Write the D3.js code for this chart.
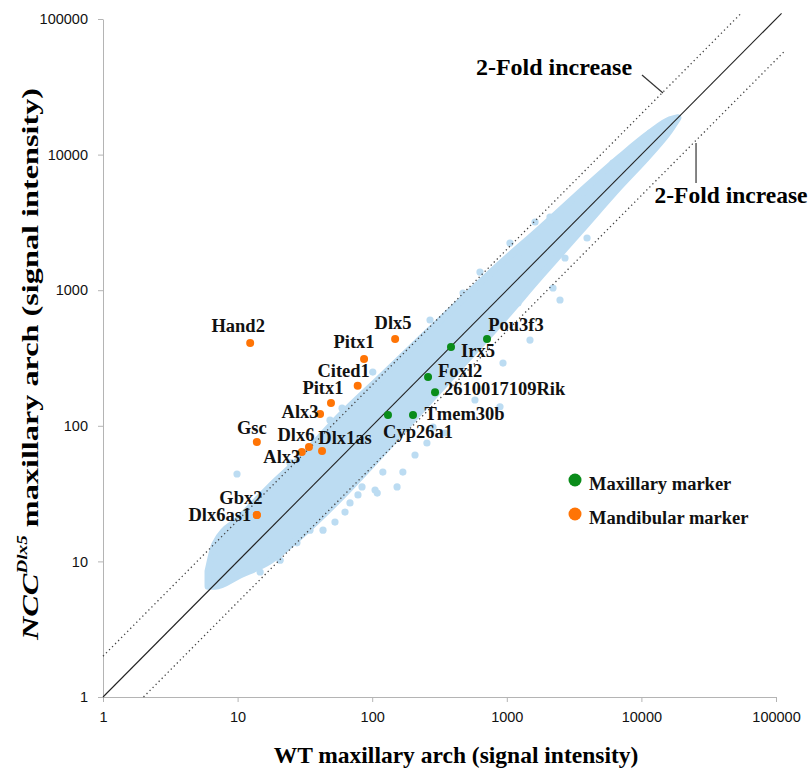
<!DOCTYPE html>
<html>
<head>
<meta charset="utf-8">
<script src="https://cdn.jsdelivr.net/npm/d3@7"></script>
<style>
  body { margin: 0; background: #fff; }
  svg { display: block; }
</style>
</head>
<body>
<svg id="chart" width="810" height="771"></svg>
<script>
// gene markers (WT signal, NCC-Dlx5 signal)
const genes = ["Hand2", "Dlx5", "Pitx1", "Cited1", "Pitx1", "Alx3", "Gsc", "Dlx6", "Dlx1as", "Alx3", "Gbx2", "Dlx6as1",
               "Pou3f3", "Irx5", "Foxl2", "2610017109Rik", "Tmem30b", "Cyp26a1"];
const geneWT  = [12.4, 148, 87, 78, 49.4, 41, 13.9, 33.9, 42.4, 30, 13.9, 13.9,
                 713, 385, 260, 293, 201, 131];
const geneNCC = [408, 437, 311, 197, 147, 122, 76, 69.8, 65.2, 64, 22, 22,
                 437, 381, 229, 177, 120, 120];
const geneType = ["man", "man", "man", "man", "man", "man", "man", "man", "man", "man", "man", "man",
                  "max", "max", "max", "max", "max", "max"];

// dense cloud of all probes: envelope
const bandX  = [6.03, 6.79, 10.4, 17.4, 29.1, 57.6, 114, 226, 449, 890, 1765, 3500, 6930, 11590, 16300, 18700];
const bandHi = [8.45, 13.4, 20.9, 35.6, 57.4, 118, 225, 432, 826, 1556, 2838, 5260, 9570, 14450, 18030, 18700];
const bandLo = [6.56, 6.56, 7.94, 10.1, 15.3, 29.2, 60.0, 127, 270, 572, 1256, 2710, 5850, 10120, 15200, 18700];

// scattered probes around the dense band
const outWT  = [9.9, 120, 105, 78.4, 68.4, 52.9, 34.5, 27.6, 14.7, 169, 153, 109, 84, 101, 59.7, 255, 283, 890, 937,
                1211, 3945, 2706, 2204, 473, 5186, 3683, 2094, 1621, 2800, 1253, 6150, 9440, 11590, 6.79, 7.79,
                20.7, 43.1, 62.8, 208, 347, 580, 1487, 2484, 24.5, 48.6, 269, 632, 1056];
const outNCC = [44.1, 45.6, 33.6, 30.9, 27.0, 19.5, 17.0, 13.7, 8.35, 45.6, 35.4, 31.9, 35.4, 249, 135, 74.7, 98, 138, 290,
                805, 2427, 1727, 1038, 953, 6838, 5297, 3467, 3184, 3900, 1914, 8670, 12180, 14430, 10.6, 7.05,
                10.2, 17.0, 23.1, 60.9, 88.5, 155, 429, 847, 53.2, 110, 603, 1361, 2228];

const tickVals = [1, 10, 100, 1000, 10000, 100000];

// reference lines: y = x and 2-fold lines
const diagX = [1, 110000];
const foldUpX = [1, 56000];
const foldDownX = [2, 115000];

const legendItems = ["Maxillary marker", "Mandibular marker"];
const foldLabel = "2-Fold increase";

const colors = { max: "#0a8c1a", man: "#ff7405", cloud: "#bcdcf2" };
const serif = "'Liberation Serif', 'Times New Roman', serif";
const sans = "'Liberation Sans', Arial, sans-serif";

const svg = d3.select("#chart");
const x = d3.scaleLog().domain([1, 100000]).range([103, 776]);
const y = d3.scaleLog().domain([1, 100000]).range([697, 19]);

// axes
const xAxis = svg.append("g").attr("transform", "translate(0,697)")
  .call(d3.axisBottom(x).tickValues(tickVals).tickFormat(d3.format("d")).tickSize(5).tickPadding(10).tickSizeOuter(0));
const yAxis = svg.append("g").attr("transform", "translate(103,0)")
  .call(d3.axisLeft(y).tickValues(tickVals).tickFormat(d3.format("d")).tickSize(5).tickPadding(10).tickSizeOuter(0));
[xAxis, yAxis].forEach(g => {
  g.select(".domain").attr("stroke", "#b4b4b4");
  g.selectAll(".tick line").attr("stroke", "#b4b4b4");
  g.selectAll(".tick text").attr("font-family", sans).attr("font-size", 14.5).attr("fill", "#111");
});

// cloud
const band = bandX.map((v, i) => ({ x: v, hi: bandHi[i], lo: bandLo[i] }));
svg.append("path")
  .datum(band)
  .attr("fill", colors.cloud)
  .attr("stroke", colors.cloud)
  .attr("stroke-width", 7)
  .attr("stroke-linejoin", "round")
  .attr("d", d3.area().x(d => x(d.x)).y0(d => y(d.lo)).y1(d => y(d.hi)).curve(d3.curveMonotoneX));

svg.append("g")
  .selectAll("circle")
  .data(outWT.map((v, i) => ({ x: v, y: outNCC[i] })))
  .join("circle")
  .attr("cx", d => x(d.x))
  .attr("cy", d => y(d.y))
  .attr("r", 3.6)
  .attr("fill", colors.cloud);

// reference lines
svg.append("path")
  .datum(diagX)
  .attr("fill", "none").attr("stroke", "#222").attr("stroke-width", 1.1)
  .attr("d", d3.line().x(d => x(d)).y(d => y(d)));
svg.append("path")
  .datum(foldUpX)
  .attr("fill", "none").attr("stroke", "#444").attr("stroke-width", 1.3).attr("stroke-dasharray", "1.3,3")
  .attr("d", d3.line().x(d => x(d)).y(d => y(d * 2)));
svg.append("path")
  .datum(foldDownX)
  .attr("fill", "none").attr("stroke", "#444").attr("stroke-width", 1.3).attr("stroke-dasharray", "1.3,3")
  .attr("d", d3.line().x(d => x(d)).y(d => y(d / 2)));

// fold annotations
const foldNotes = [
  { x1: 10100, y1: 38650, x2: 14470, y2: 28460, tx: 554, ty: 67, fs: 24 },
  { x1: 25460, y1: 12170, x2: 25460, y2: 6180, tx: 731, ty: 195, fs: 23.5 }
];
foldNotes.forEach(n => {
  svg.append("line")
    .attr("x1", x(n.x1)).attr("y1", y(n.y1)).attr("x2", x(n.x2)).attr("y2", y(n.y2))
    .attr("stroke", "#333").attr("stroke-width", 1.2);
  svg.append("text")
    .attr("x", n.tx).attr("y", n.ty)
    .attr("text-anchor", "middle").attr("dominant-baseline", "central")
    .attr("font-family", serif).attr("font-weight", "bold").attr("font-size", n.fs)
    .text(foldLabel);
});

// gene points
const pts = genes.map((g, i) => ({ name: g, x: geneWT[i], y: geneNCC[i], type: geneType[i] }));
svg.append("g")
  .selectAll("circle")
  .data(pts)
  .join("circle")
  .attr("cx", d => x(d.x))
  .attr("cy", d => y(d.y))
  .attr("r", 4)
  .attr("fill", d => colors[d.type]);

// label offsets from each point (text centre)
const labelOffsets = [[-12, -17], [-2, -16], [-10, -17], [-14, -15], [-8, -15], [-20, -2], [-5, -14], [-13, -12],
                      [23, -13], [-20, 5], [-16, -17], [-37, 0],
                      [29, -14], [27, 4], [32, -6], [69.5, -3], [51.5, -1], [30, 17]];
svg.append("g")
  .selectAll("text")
  .data(pts)
  .join("text")
  .attr("x", (d, i) => x(d.x) + labelOffsets[i][0])
  .attr("y", (d, i) => y(d.y) + labelOffsets[i][1])
  .attr("text-anchor", "middle")
  .attr("dominant-baseline", "central")
  .attr("font-family", serif)
  .attr("font-weight", "bold")
  .attr("font-size", 18.5)
  .attr("fill", "#111")
  .text(d => d.name);

// legend
const legend = svg.append("g").attr("transform", "translate(575,480)");
legendItems.forEach((t, i) => {
  legend.append("circle").attr("cx", 0).attr("cy", i * 34).attr("r", 6.5)
    .attr("fill", i === 0 ? colors.max : colors.man);
  legend.append("text").attr("x", 14).attr("y", i * 34 + 4)
    .attr("dominant-baseline", "central")
    .attr("font-family", serif).attr("font-weight", "bold").attr("font-size", 18.5)
    .attr("fill", "#111")
    .text(t);
});

// axis titles
svg.append("text")
  .attr("x", 456).attr("y", 755)
  .attr("text-anchor", "middle").attr("dominant-baseline", "central")
  .attr("font-family", serif).attr("font-weight", "bold").attr("font-size", 23.5)
  .text("WT maxillary arch (signal intensity)");

const yt = svg.append("text")
  .attr("transform", "translate(30,364) rotate(-90)")
  .attr("text-anchor", "middle").attr("dominant-baseline", "central")
  .attr("textLength", 552).attr("lengthAdjust", "spacingAndGlyphs")
  .attr("font-family", serif).attr("font-weight", "bold").attr("font-size", 23.5);
yt.append("tspan").attr("font-style", "italic").text("NCC");
yt.append("tspan").attr("font-style", "italic").attr("font-size", 14).attr("dy", -8).text("Dlx5");
yt.append("tspan").attr("dy", 8).text(" maxillary arch (signal intensity)");
</script>
</body>
</html>
